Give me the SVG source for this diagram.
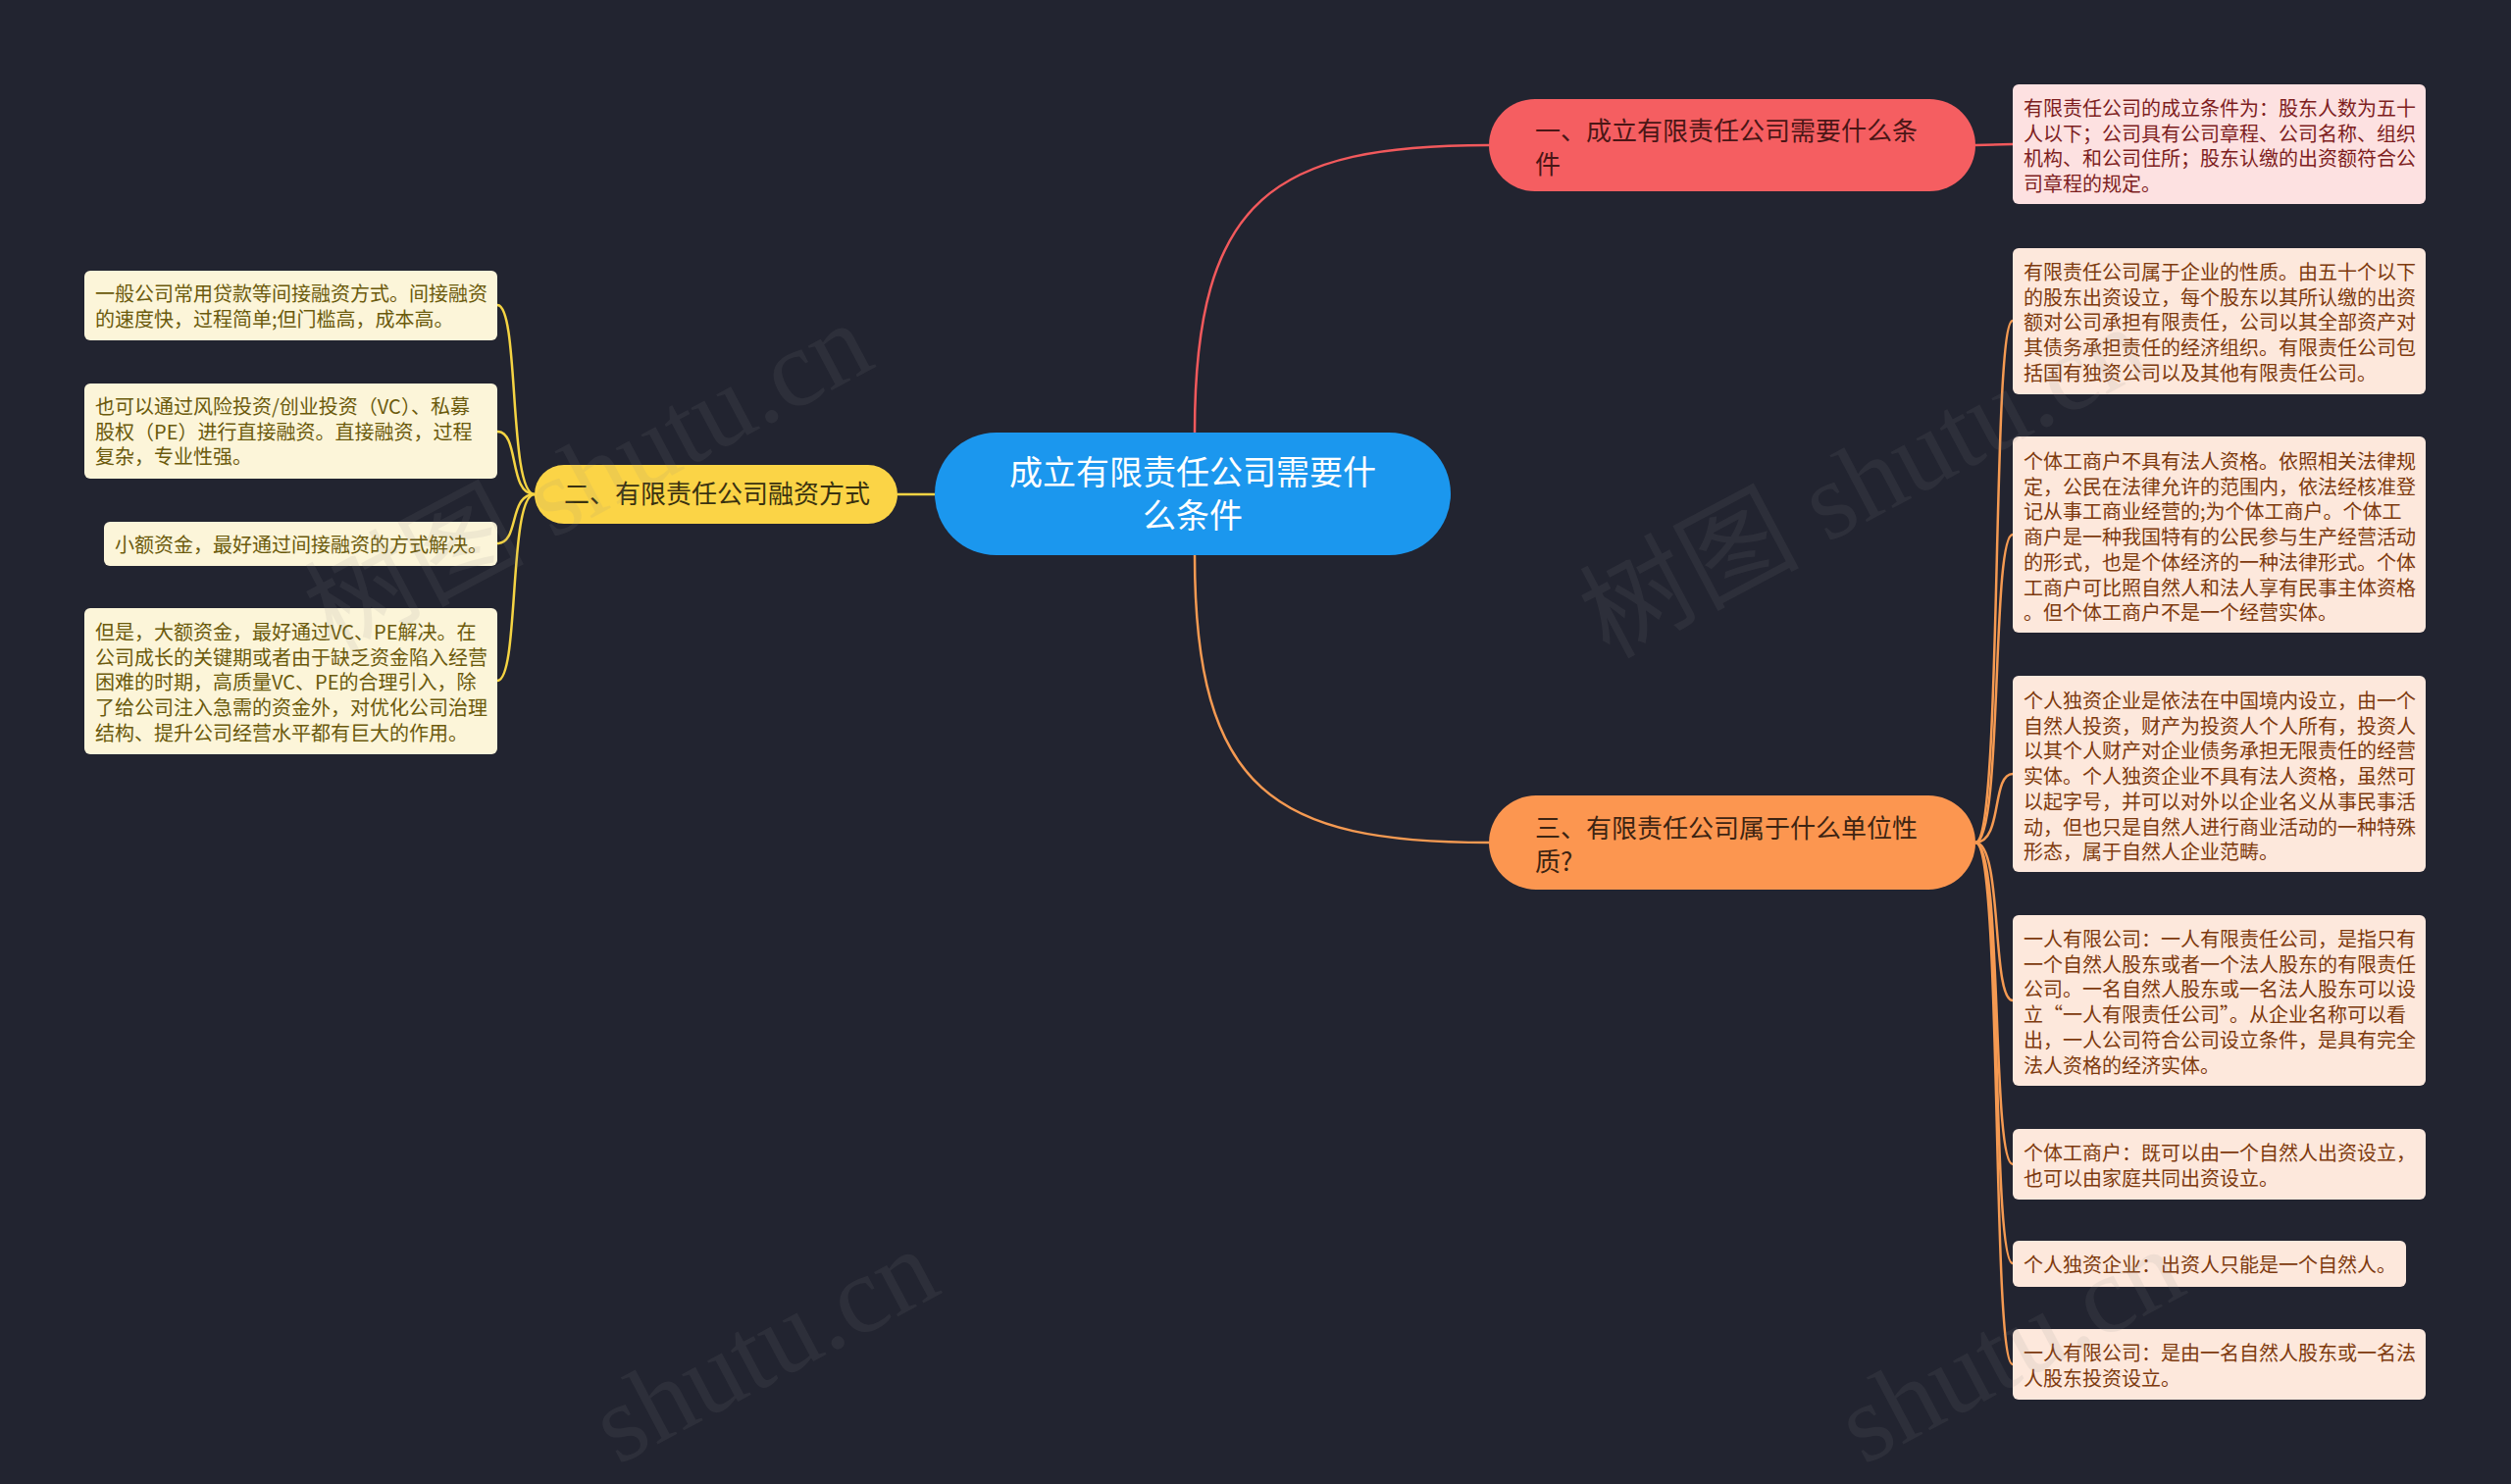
<svg xmlns="http://www.w3.org/2000/svg" width="2560" height="1513" viewBox="0 0 2560 1513">
<style>
text{font-family:"Noto Sans CJK SC","Noto Sans",sans-serif;}
.lt{font-size:20px;}
.leafR{fill:#fde8dc;}
.leafP{fill:#fde1e1;}
.leafY{fill:#fcf5d9;}
.tR{fill:#7d3a0e;}
.tP{fill:#7d1e1e;}
.tY{fill:#6b5a0c;}
.mt{font-size:26px;}
.wm{font-family:"Liberation Serif","Noto Sans CJK SC",serif;font-size:112px;fill:#8a8a8a;opacity:0.11;}
.c{fill:none;stroke-width:2.5;}
</style>
<rect width="2560" height="1513" fill="#222430"/>
<g id="connectors">
<path class="c" stroke="#f2595c" d="M1218,441 C1218,200 1300,148 1518,148"/>
<path class="c" stroke="#f59a52" d="M1218,566 C1218,807 1300,859 1518,859"/>
<path class="c" stroke="#f5d443" d="M953,504 L915,504"/>
<path class="c" stroke="#f2595c" d="M2014,148 L2052,147"/>
<g stroke="#f59a52">
<path class="c" d="M2014,859 C2042,859 2030,327 2052,327"/>
<path class="c" d="M2014,859 C2042,859 2030,545 2052,545"/>
<path class="c" d="M2014,859 C2042,859 2030,789 2052,789"/>
<path class="c" d="M2014,859 C2042,859 2030,1020 2052,1020"/>
<path class="c" d="M2014,859 C2042,859 2030,1187 2052,1187"/>
<path class="c" d="M2014,859 C2042,859 2030,1288 2052,1288"/>
<path class="c" d="M2014,859 C2042,859 2030,1391 2052,1391"/>
</g>
<g stroke="#f5d443">
<path class="c" d="M545,504 C518,504 530,311 507,311"/>
<path class="c" d="M545,504 C518,504 530,440 507,440"/>
<path class="c" d="M545,504 C518,504 530,554 507,554"/>
<path class="c" d="M545,504 C518,504 530,694 507,694"/>
</g>
</g>
<g id="center">
<rect x="953" y="441" width="526" height="125" rx="62.5" fill="#1b97ee"/>
<text x="1216" y="494" font-size="34" fill="#ffffff" text-anchor="middle">成立有限责任公司需要什</text>
<text x="1216" y="538" font-size="34" fill="#ffffff" text-anchor="middle">么条件</text>
</g>
<g id="n1">
<rect x="1518" y="101" width="496" height="94" rx="47" fill="#f55e61"/>
<text class="mt" x="1565" y="143" fill="#4a1616">一、成立有限责任公司需要什么条</text>
<text class="mt" x="1565" y="177" fill="#4a1616">件</text>
</g>
<g id="n3">
<rect x="1518" y="811" width="496" height="96" rx="48" fill="#fc9650"/>
<text class="mt" x="1565" y="854" fill="#3d2412">三、有限责任公司属于什么单位性</text>
<text class="mt" x="1565" y="888" fill="#3d2412">质?</text>
</g>
<g id="n2">
<rect x="545" y="474" width="370" height="60" rx="30" fill="#fbd446"/>
<text class="mt" x="575" y="513" fill="#3a3210">二、有限责任公司融资方式</text>
</g>
<g id="leaf1">
<rect class="leafP" x="2052" y="86" width="421" height="122" rx="6"/>
<text class="lt tP" x="2063"><tspan x="2063" y="118">有限责任公司的成立条件为：股东人数为五十</tspan><tspan x="2063" y="143.5">人以下；公司具有公司章程、公司名称、组织</tspan><tspan x="2063" y="169">机构、和公司住所；股东认缴的出资额符合公</tspan><tspan x="2063" y="194.5">司章程的规定。</tspan></text>
</g>
<g id="leaf2">
<rect class="leafR" x="2052" y="253" width="421" height="149" rx="6"/>
<text class="lt tR"><tspan x="2063" y="285">有限责任公司属于企业的性质。由五十个以下</tspan><tspan x="2063" y="310.7">的股东出资设立，每个股东以其所认缴的出资</tspan><tspan x="2063" y="336.4">额对公司承担有限责任，公司以其全部资产对</tspan><tspan x="2063" y="362.1">其债务承担责任的经济组织。有限责任公司包</tspan><tspan x="2063" y="387.8">括国有独资公司以及其他有限责任公司。</tspan></text>
</g>
<g id="leaf3">
<rect class="leafR" x="2052" y="445" width="421" height="200" rx="6"/>
<text class="lt tR"><tspan x="2063" y="478">个体工商户不具有法人资格。依照相关法律规</tspan><tspan x="2063" y="503.7">定，公民在法律允许的范围内，依法经核准登</tspan><tspan x="2063" y="529.4">记从事工商业经营的;为个体工商户。个体工</tspan><tspan x="2063" y="555.1">商户是一种我国特有的公民参与生产经营活动</tspan><tspan x="2063" y="580.8">的形式，也是个体经济的一种法律形式。个体</tspan><tspan x="2063" y="606.5">工商户可比照自然人和法人享有民事主体资格</tspan><tspan x="2063" y="632.2">。但个体工商户不是一个经营实体。</tspan></text>
</g>
<g id="leaf4">
<rect class="leafR" x="2052" y="689" width="421" height="200" rx="6"/>
<text class="lt tR"><tspan x="2063" y="722">个人独资企业是依法在中国境内设立，由一个</tspan><tspan x="2063" y="747.7">自然人投资，财产为投资人个人所有，投资人</tspan><tspan x="2063" y="773.4">以其个人财产对企业债务承担无限责任的经营</tspan><tspan x="2063" y="799.1">实体。个人独资企业不具有法人资格，虽然可</tspan><tspan x="2063" y="824.8">以起字号，并可以对外以企业名义从事民事活</tspan><tspan x="2063" y="850.5">动，但也只是自然人进行商业活动的一种特殊</tspan><tspan x="2063" y="876.2">形态，属于自然人企业范畴。</tspan></text>
</g>
<g id="leaf5">
<rect class="leafR" x="2052" y="933" width="421" height="174" rx="6"/>
<text class="lt tR"><tspan x="2063" y="965">一人有限公司：一人有限责任公司，是指只有</tspan><tspan x="2063" y="990.7">一个自然人股东或者一个法人股东的有限责任</tspan><tspan x="2063" y="1016.4">公司。一名自然人股东或一名法人股东可以设</tspan><tspan x="2063" y="1042.1">立“一人有限责任公司”。从企业名称可以看</tspan><tspan x="2063" y="1067.8">出，一人公司符合公司设立条件，是具有完全</tspan><tspan x="2063" y="1093.5">法人资格的经济实体。</tspan></text>
</g>
<g id="leaf6">
<rect class="leafR" x="2052" y="1151" width="421" height="72" rx="6"/>
<text class="lt tR"><tspan x="2063" y="1183">个体工商户：既可以由一个自然人出资设立，</tspan><tspan x="2063" y="1208.7">也可以由家庭共同出资设立。</tspan></text>
</g>
<g id="leaf7">
<rect class="leafR" x="2052" y="1265" width="401" height="47" rx="6"/>
<text class="lt tR" x="2063" y="1297">个人独资企业：出资人只能是一个自然人。</text>
</g>
<g id="leaf8">
<rect class="leafR" x="2052" y="1355" width="421" height="72" rx="6"/>
<text class="lt tR"><tspan x="2063" y="1387">一人有限公司：是由一名自然人股东或一名法</tspan><tspan x="2063" y="1412.7">人股东投资设立。</tspan></text>
</g>
<g id="leafL1">
<rect class="leafY" x="86" y="276" width="421" height="71" rx="6"/>
<text class="lt tY"><tspan x="97" y="307">一般公司常用贷款等间接融资方式。间接融资</tspan><tspan x="97" y="332.7">的速度快，过程简单;但门槛高，成本高。</tspan></text>
</g>
<g id="leafL2">
<rect class="leafY" x="86" y="391" width="421" height="97" rx="6"/>
<text class="lt tY"><tspan x="97" y="422">也可以通过风险投资/创业投资（VC）、私募</tspan><tspan x="97" y="447.7">股权（PE）进行直接融资。直接融资，过程</tspan><tspan x="97" y="473.4">复杂，专业性强。</tspan></text>
</g>
<g id="leafL3">
<rect class="leafY" x="106" y="532" width="401" height="45" rx="6"/>
<text class="lt tY" x="117" y="563">小额资金，最好通过间接融资的方式解决。</text>
</g>
<g id="leafL4">
<rect class="leafY" x="86" y="620" width="421" height="149" rx="6"/>
<text class="lt tY"><tspan x="97" y="652">但是，大额资金，最好通过VC、PE解决。在</tspan><tspan x="97" y="677.7">公司成长的关键期或者由于缺乏资金陷入经营</tspan><tspan x="97" y="703.4">困难的时期，高质量VC、PE的合理引入，除</tspan><tspan x="97" y="729.1">了给公司注入急需的资金外，对优化公司治理</tspan><tspan x="97" y="754.8">结构、提升公司经营水平都有巨大的作用。</tspan></text>
</g>
<g id="watermarks">
<text class="wm" transform="translate(340,668) rotate(-28)">树图 shutu.cn</text>
<text class="wm" transform="translate(1640,672) rotate(-28)">树图 shutu.cn</text>
<text class="wm" transform="translate(630,1494) rotate(-28)">shutu.cn</text>
<text class="wm" transform="translate(1900,1494) rotate(-28)">shutu.cn</text>
</g>
</svg>
